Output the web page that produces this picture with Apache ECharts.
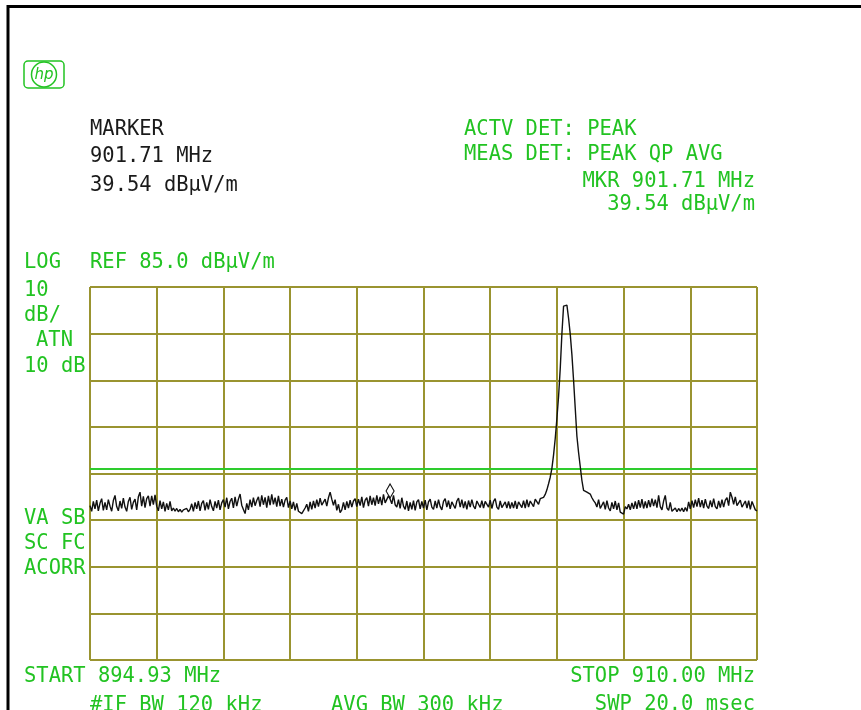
<!DOCTYPE html>
<html>
<head>
<meta charset="utf-8">
<script src="https://cdn.jsdelivr.net/npm/echarts@6/dist/echarts.min.js"></script>
<style>
html,body{margin:0;padding:0;background:#fff;}
#chart{width:861px;height:710px;}
</style>
</head>
<body>
<div id="chart"></div>
<script>
// ---- data ----
var startFreq = 894.93;   // MHz
var stopFreq = 910.00;    // MHz
var refLevel = 85.0;      // dBuV/m (top of screen)
var dbPerDiv = 10;
var bottomLevel = 5.0;    // dBuV/m (bottom of screen)
var limitLevel = 46.0;    // dBuV/m limit line
var markerFreq = 901.71;  // MHz
var markerLevel = 39.54;  // dBuV/m

// trace levels (dBuV/m), 401 sweep points from START to STOP
var traceLevels = [
  38.1, 36.9, 39.0, 37.4, 39.3, 37.0, 38.6, 39.6, 37.1, 38.8,
  37.2, 39.4, 38.0, 36.9, 39.2, 40.3, 37.9, 37.0, 39.1, 37.5,
  39.7, 37.8, 36.9, 39.0, 39.9, 37.3, 38.8, 39.5, 37.2, 40.0,
  41.0, 38.0, 40.1, 37.7, 39.6, 40.2, 38.0, 40.2, 38.3, 40.4,
  38.0, 37.0, 39.2, 37.4, 38.9, 36.9, 38.6, 37.2, 39.0, 37.0,
  37.6, 36.9, 37.5, 36.8, 37.3, 36.7, 37.2, 36.9, 37.5, 36.8,
  37.3, 38.5, 36.9, 38.8, 37.4, 39.1, 37.0, 38.6, 39.2, 37.1,
  38.8, 37.3, 39.4, 37.9, 37.0, 39.0, 37.6, 39.3, 37.2, 38.7,
  39.4, 37.8, 39.8, 37.4, 39.0, 39.7, 37.6, 40.0, 38.0, 39.5,
  40.6, 38.2, 37.3, 36.4, 38.6, 37.2, 39.4, 37.8, 39.8, 38.1,
  39.2, 40.0, 37.9, 40.3, 38.3, 39.9, 37.7, 40.2, 38.2, 40.5,
  38.4, 39.8, 37.9, 40.2, 38.0, 39.5, 37.8, 39.3, 39.9, 37.7,
  39.1, 37.4, 38.9, 37.1, 38.6, 36.9, 37.3, 36.4, 36.7, 37.6,
  38.4, 36.9, 38.9, 37.3, 39.1, 37.6, 39.4, 37.9, 39.7, 38.2,
  37.8, 39.5, 38.0, 39.8, 41.0, 39.5, 38.2, 39.4, 37.1, 38.4,
  36.6, 37.2, 38.8, 37.2, 39.0, 37.6, 39.3, 37.8, 39.1, 39.6,
  37.9, 39.5, 38.1, 40.0, 37.7, 39.3, 39.8, 38.0, 40.2, 38.3,
  39.8, 38.1, 40.3, 38.5, 40.0, 38.2, 40.5, 38.7, 38.4, 40.2,
  39.5, 38.5, 40.3, 38.3, 37.8, 39.4, 37.5, 39.8, 38.0, 37.3,
  39.1, 37.0, 38.8, 37.3, 39.2, 37.1, 38.9, 39.4, 37.4, 39.0,
  37.6, 39.3, 37.2, 38.9, 39.5, 37.8, 37.3, 39.1, 37.6, 39.4,
  37.9, 37.2, 39.0, 39.6, 37.8, 39.2, 37.4, 38.9, 39.3, 37.5,
  39.1, 39.7, 37.8, 39.4, 37.6, 39.0, 37.3, 39.2, 37.8, 39.4,
  38.0, 37.4, 39.1, 39.5, 37.7, 39.2, 37.6, 39.0, 39.4, 37.8,
  39.3, 37.5, 39.0, 39.6, 37.8, 37.3, 39.1, 37.7, 37.5, 38.9,
  37.6, 39.0, 37.5, 38.8, 37.6, 39.1, 37.4, 38.9, 39.3, 37.7,
  39.2, 37.6, 39.4, 37.8, 39.1, 39.4, 37.9, 39.5, 39.8, 38.4,
  39.6, 39.4, 39.9, 40.5, 41.5, 42.8, 44.2, 46.1, 49.0, 52.5,
  56.8, 61.5, 67.5, 75.0, 80.9, 81.1, 81.1, 78.3, 74.9, 70.5,
  65.0, 59.0, 53.0, 49.5, 46.5, 43.5, 41.4, 41.3, 41.0, 40.9,
  40.6, 39.8, 39.2, 38.7, 37.8, 39.4, 37.5, 37.1, 38.9, 37.3,
  39.2, 37.6, 37.0, 38.8, 37.4, 39.1, 37.2, 38.7, 36.7, 36.4,
  36.3, 37.9, 37.4, 38.4, 37.2, 38.7, 37.4, 39.0, 37.4, 39.3,
  37.7, 39.5, 37.5, 39.0, 37.6, 39.3, 37.8, 39.6, 38.0, 39.4,
  37.7, 40.3, 37.9, 37.2, 39.1, 40.3, 37.6, 37.1, 38.8, 36.9,
  36.9, 37.6, 36.8, 37.5, 36.9, 37.6, 36.8, 37.7, 36.9, 38.9,
  37.4, 39.2, 37.7, 39.4, 37.9, 39.7, 37.8, 39.3, 37.6, 39.5,
  38.0, 37.5, 39.2, 37.8, 39.6, 37.9, 37.4, 39.1, 37.7, 39.4,
  37.8, 39.3, 39.8, 38.1, 41.0, 39.9, 38.4, 40.0, 38.1, 37.7,
  39.3, 37.8, 37.4, 39.1, 37.6, 39.2, 37.3, 39.0, 39.4, 37.2,
  37.0
];

// annotation texts
var headerTexts = ['MARKER', '901.71 MHz', '39.54 dB\u00b5V/m'];
var detTexts = ['ACTV DET: PEAK', 'MEAS DET: PEAK QP AVG'];
var mkrTexts = ['MKR 901.71 MHz', '39.54 dB\u00b5V/m'];
var scaleTexts = ['LOG', 'REF 85.0 dB\u00b5V/m', '10', 'dB/', 'ATN', '10 dB'];
var statusTexts = ['VA SB', 'SC FC', 'ACORR'];
var footerTexts = ['START 894.93 MHz', 'STOP 910.00 MHz', '#IF BW 120 kHz', 'AVG BW 300 kHz', 'SWP 20.0 msec'];

// ---- build ----
var nPts = traceLevels.length;
var step = (stopFreq - startFreq) / (nPts - 1);
var traceData = traceLevels.map(function (v, i) { return [startFreq + i * step, v]; });

var GREEN = '#22c322';
var DARK = '#1a1a1a';
var GRID = '#9a9430';
var FONT = 'DejaVu Sans Mono';

function txt(s, x, y, color, align) {
  return {
    type: 'text', x: x, y: y, scaleX: 0.93, scaleY: 1, z: 10,
    style: { text: s, x: 0, y: 0, fill: color, font: '22px "' + FONT + '"',
             align: align || 'left', verticalAlign: 'middle' }
  };
}

var graphics = [
  // frame
  { type: 'line', shape: { x1: 8, y1: 6.5, x2: 861, y2: 6.5 }, style: { stroke: '#000', lineWidth: 3 } },
  { type: 'line', shape: { x1: 8, y1: 5, x2: 8, y2: 710 }, style: { stroke: '#000', lineWidth: 3 } },
  // hp logo
  { type: 'rect', shape: { x: 24, y: 61, width: 40, height: 27, r: 4 }, style: { stroke: GREEN, fill: 'none', lineWidth: 1.5 } },
  { type: 'circle', shape: { cx: 44, cy: 74.5, r: 12.5 }, style: { stroke: GREEN, fill: '#fff', lineWidth: 1.5 } },
  { type: 'text', x: 44, y: 75, style: { text: 'hp', fill: GREEN, font: 'italic 15px "DejaVu Sans"', align: 'center', verticalAlign: 'middle' } },

  txt(headerTexts[0], 90, 129, DARK),
  txt(headerTexts[1], 90, 156, DARK),
  txt(headerTexts[2], 90, 185, DARK),

  txt(detTexts[0], 464, 129, GREEN),
  txt(detTexts[1], 464, 154, GREEN),
  txt(mkrTexts[0], 755, 181, GREEN, 'right'),
  txt(mkrTexts[1], 755, 204, GREEN, 'right'),

  txt(scaleTexts[0], 24, 262, GREEN),
  txt(scaleTexts[1], 90, 262, GREEN),
  txt(scaleTexts[2], 24, 290, GREEN),
  txt(scaleTexts[3], 24, 315, GREEN),
  txt(scaleTexts[4], 36, 340, GREEN),
  txt(scaleTexts[5], 24, 366, GREEN),

  txt(statusTexts[0], 24, 518, GREEN),
  txt(statusTexts[1], 24, 543, GREEN),
  txt(statusTexts[2], 24, 568, GREEN),

  txt(footerTexts[0], 24, 676, GREEN),
  txt(footerTexts[1], 755, 676, GREEN, 'right'),
  txt(footerTexts[2], 90, 705, GREEN),
  txt(footerTexts[3], 331, 705, GREEN),
  txt(footerTexts[4], 755, 704, GREEN, 'right')
];

var chart = echarts.init(document.getElementById('chart'), null, { renderer: 'canvas' });
chart.setOption({
  animation: false,
  backgroundColor: '#fff',
  grid: { left: 90, top: 287, width: 667, height: 373, containLabel: false },
  xAxis: [
    { type: 'value', min: startFreq, max: stopFreq, show: false, splitLine: { show: false } },
    { type: 'value', min: 0, max: 10, interval: 1, position: 'bottom',
      axisLine: { show: false }, axisTick: { show: false }, axisLabel: { show: false },
      splitLine: { show: true, showMinLine: true, showMaxLine: true, lineStyle: { color: GRID, width: 2 } } }
  ],
  yAxis: [
    { type: 'value', min: bottomLevel, max: refLevel, show: false, splitLine: { show: false } },
    { type: 'value', min: 0, max: (refLevel - bottomLevel) / dbPerDiv, interval: 1,
      axisLine: { show: false }, axisTick: { show: false }, axisLabel: { show: false },
      splitLine: { show: true, showMinLine: true, showMaxLine: true, lineStyle: { color: GRID, width: 2 } } }
  ],
  series: [
    {
      type: 'line', xAxisIndex: 0, yAxisIndex: 0, data: traceData,
      showSymbol: false, symbol: 'none', smooth: false,
      lineStyle: { color: '#111', width: 1.4 }, z: 5,
      markLine: {
        silent: true, symbol: 'none', label: { show: false }, animation: false,
        lineStyle: { color: '#2ecc2e', width: 2, type: 'solid' },
        data: [{ yAxis: limitLevel }]
      },
      markPoint: {
        silent: true, animation: false,
        data: [{ coord: [markerFreq, markerLevel], symbol: 'diamond', symbolSize: [8, 14],
                 symbolOffset: [0, -8],
                 itemStyle: { color: '#fff', borderColor: '#111', borderWidth: 1.2 },
                 label: { show: false } }]
      }
    }
  ],
  graphic: graphics
});
</script>
</body>
</html>
